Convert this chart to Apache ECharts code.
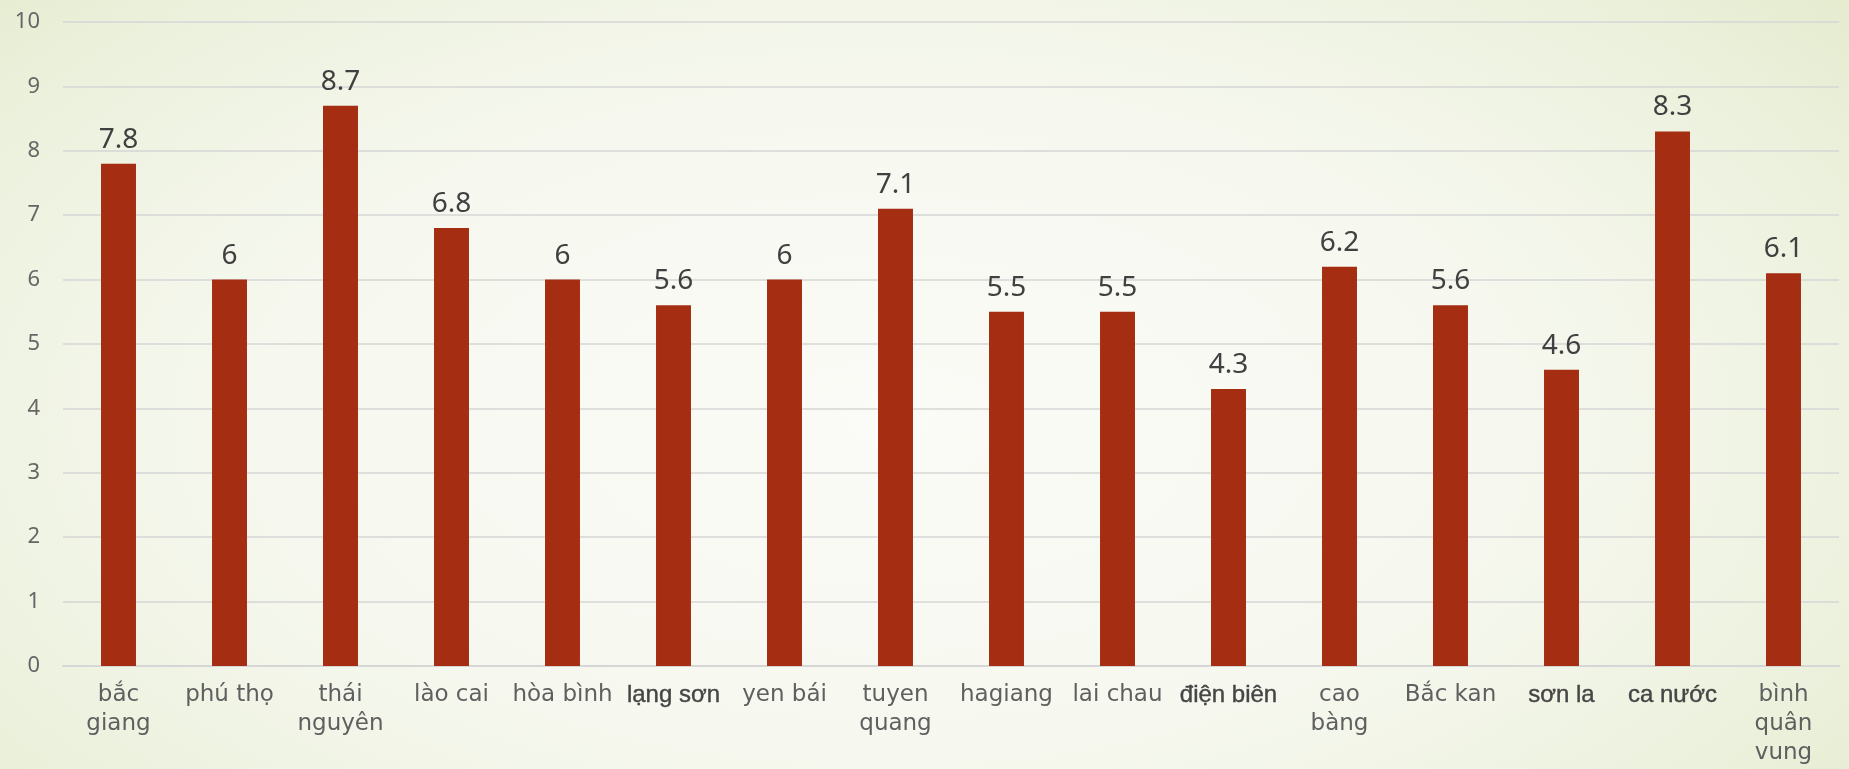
<!DOCTYPE html>
<html>
<head>
<meta charset="utf-8">
<script src="https://cdn.jsdelivr.net/npm/echarts@6/dist/echarts.min.js"></script>
<style>
  html, body { margin: 0; padding: 0; }
  body {
    width: 1849px; height: 769px; overflow: hidden;
    background: radial-gradient(ellipse 75% 95% at 48% 55%, #fbfbf7 0%, #f6f8ef 45%, #ecf1dd 75%, #e1e8c6 100%);
  }
  #chart { width: 1849px; height: 769px; }
</style>
</head>
<body>
<div id="chart"></div>
<script>
// Provinces (line breaks where the axis wraps them)
const categories = [
  'bắc\ngiang', 'phú thọ', 'thái\nnguyên', 'lào cai', 'hòa bình', 'lạng sơn',
  'yen bái', 'tuyen\nquang', 'hagiang', 'lai chau', 'điện biên', 'cao\nbàng',
  'Bắc kan', 'sơn la', 'ca nước', 'bình\nquân\nvung'
];
// Labels drawn in the heavier face
const boldCategories = ['lạng sơn', 'điện biên', 'sơn la', 'ca nước'];
const values = [7.8, 6, 8.7, 6.8, 6, 5.6, 6, 7.1, 5.5, 5.5, 4.3, 6.2, 5.6, 4.6, 8.3, 6.1];
const yTicks = [0, 1, 2, 3, 4, 5, 6, 7, 8, 9, 10];

const CAT_FONT = '"DejaVu Sans", sans-serif';
const ALT_FONT = '"Liberation Sans", Arial, sans-serif';
const NUM_FONT = '"Noto Sans", sans-serif';
const chart = echarts.init(document.getElementById('chart'), null, { renderer: 'canvas' });

chart.setOption({
  backgroundColor: 'transparent',
  animation: false,
  grid: { left: 63, right: 10, top: 22, bottom: 103, containLabel: false },
  xAxis: {
    type: 'category',
    data: categories,
    axisTick: { show: false },
    axisLine: { show: true, lineStyle: { color: '#d6d6d6', width: 2 } },
    axisLabel: {
      interval: 0,
      margin: 15,
      color: '#5f5f5f',
      fontFamily: CAT_FONT,
      fontSize: 23,
      lineHeight: 29,
      formatter: v => boldCategories.includes(v) ? '{b|' + v + '}' : v,
      rich: {
        b: { fontFamily: ALT_FONT, fontSize: 24, fontWeight: 'normal', color: '#454545', lineHeight: 29,
             textBorderColor: '#454545', textBorderWidth: 0.4 }
      }
    }
  },
  yAxis: {
    type: 'value',
    min: yTicks[0],
    max: yTicks[yTicks.length - 1],
    interval: 1,
    axisLine: { show: false },
    axisTick: { show: false },
    splitLine: { lineStyle: { color: '#d6d6d6', width: 1.5 } },
    axisLabel: { color: '#666666', fontFamily: NUM_FONT, fontSize: 22, margin: 23 }
  },
  series: [{
    type: 'bar',
    data: values,
    barWidth: '31.5%',
    itemStyle: { color: '#a52d12' },
    label: {
      show: true,
      position: 'top',
      distance: 10,
      color: '#404040',
      fontFamily: NUM_FONT,
      fontSize: 28
    }
  }]
});
</script>
</body>
</html>
